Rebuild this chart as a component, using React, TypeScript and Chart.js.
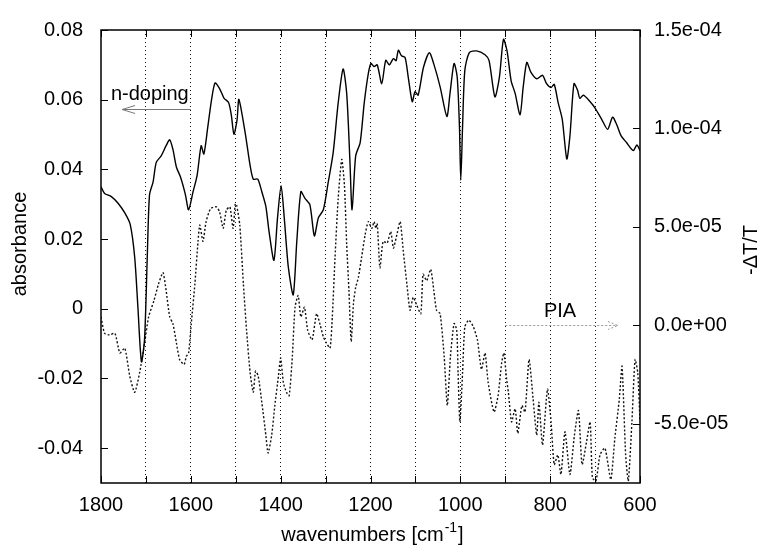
import React, { useEffect, useRef } from "react";
import { Chart, registerables } from "chart.js";

Chart.register(...registerables);

// ---- absorbance (left axis), solid line ----
const absWavenumbers = [1800,1792,1777,1762,1747,1735,1725,1718,1710,1703,1697,1692,1684,1677,1666,1655,1647,1640,1632,1623,1612,1605,1595,1586,1577,1571,1562,1554,1546,1536,1526,1516,1510,1504,1497,1493,1479,1468,1461,1451,1442,1433,1426,1415,1407,1399,1392,1383,1372,1364,1355,1346,1335,1325,1316,1305,1294,1283,1272,1261,1253,1246,1241,1233,1223,1214,1205,1199,1192,1185,1175,1166,1158,1149,1143,1138,1131,1123,1116,1107,1101,1094,1082,1069,1059,1045,1030,1023,1014,1007,1002,999,995,990,980,964,945,936,923,913,904,896,887,878,867,860,852,843,830,817,808,798,791,782,773,763,756,747,739,734,726,711,700,685,672,661,652,642,630,615,607,600];
const absorbance = [0.035,0.0331,0.0322,0.0303,0.0275,0.0242,0.0148,0.0008,-0.0152,-0.0086,0.0149,0.0327,0.0364,0.042,0.0439,0.0468,0.0485,0.0458,0.0406,0.0378,0.0327,0.0284,0.0336,0.0383,0.0468,0.0444,0.0524,0.0599,0.0648,0.0632,0.0604,0.0592,0.0557,0.0501,0.0543,0.0601,0.0505,0.0411,0.0372,0.0372,0.0336,0.0294,0.0223,0.0139,0.0261,0.0353,0.0261,0.012,0.004,0.0195,0.0336,0.0317,0.0299,0.0209,0.0261,0.0284,0.0364,0.0449,0.059,0.0688,0.0618,0.043,0.0284,0.0439,0.0477,0.059,0.0674,0.0704,0.0695,0.07,0.0646,0.0713,0.07,0.0718,0.0712,0.0742,0.0726,0.0721,0.0665,0.0594,0.0623,0.0613,0.0693,0.0735,0.0702,0.0637,0.0552,0.0618,0.0704,0.0665,0.0524,0.0369,0.0524,0.0684,0.0735,0.074,0.0729,0.0712,0.0608,0.0665,0.0773,0.074,0.0655,0.0618,0.0557,0.0637,0.0707,0.0679,0.066,0.067,0.0646,0.0635,0.0644,0.059,0.0543,0.043,0.0496,0.0646,0.0627,0.0604,0.0613,0.0594,0.0576,0.0543,0.0515,0.055,0.0529,0.0496,0.0477,0.0454,0.047,0.0454];

// ---- -ΔT/T photoinduced absorption (right axis), dotted line ----
const piaWavenumbers = [1800,1792,1781,1769,1758,1747,1736,1725,1714,1703,1694,1682,1672,1662,1655,1647,1640,1632,1625,1615,1610,1605,1599,1591,1584,1580,1573,1566,1556,1543,1536,1528,1521,1513,1506,1501,1498,1491,1483,1476,1468,1461,1456,1450,1442,1433,1428,1420,1413,1405,1400,1394,1387,1381,1374,1368,1361,1355,1347,1340,1330,1320,1312,1305,1298,1290,1285,1279,1272,1264,1258,1253,1248,1243,1238,1233,1227,1220,1212,1205,1197,1192,1188,1185,1179,1172,1163,1155,1149,1143,1134,1127,1119,1112,1105,1097,1088,1083,1075,1066,1059,1053,1045,1036,1029,1022,1014,1008,1005,1001,995,990,981,971,962,953,945,938,925,916,908,903,897,893,886,878,872,863,856,847,838,830,825,817,806,798,791,783,776,767,756,746,737,729,719,711,706,698,689,678,665,656,646,640,632,626,618,611,605,600];
const piaValues = [0.43e-5,-0.4e-5,-0.48e-5,-0.4e-5,-1.4e-5,-1.15e-5,-2.57e-5,-3.4e-5,-2.4e-5,-0.9e-5,0.43e-5,1.27e-5,2.1e-5,2.68e-5,1.77e-5,0.43e-5,0.1e-5,-0.9e-5,-1.73e-5,-1.98e-5,-1.57e-5,-1.4e-5,0.1e-5,2.1e-5,4.27e-5,5.1e-5,4.27e-5,5.27e-5,5.93e-5,6.02e-5,5.77e-5,4.93e-5,5.85e-5,6.02e-5,4.93e-5,6.18e-5,6.1e-5,5.1e-5,2.1e-5,-0.23e-5,-2.4e-5,-3.4e-5,-2.32e-5,-2.57e-5,-3.9e-5,-5.57e-5,-6.48e-5,-5.57e-5,-4.07e-5,-2.57e-5,-1.65e-5,-2.9e-5,-3.4e-5,-3.57e-5,-1.57e-5,0.93e-5,1.52e-5,0.43e-5,0.93e-5,-0.23e-5,-0.73e-5,0.6e-5,0.02e-5,-0.57e-5,-0.9e-5,-1.15e-5,0.43e-5,3.43e-5,6.43e-5,8.43e-5,7.1e-5,4.1e-5,1.77e-5,-0.82e-5,1.1e-5,1.93e-5,2.43e-5,3.43e-5,4.6e-5,5.27e-5,4.93e-5,5.27e-5,4.93e-5,5.18e-5,2.93e-5,4.27e-5,4.18e-5,4.77e-5,3.93e-5,4.43e-5,5.27e-5,3.77e-5,2.1e-5,0.77e-5,1.43e-5,1.02e-5,0.6e-5,2.6e-5,2.27e-5,2.85e-5,1.77e-5,0.77e-5,0.6e-5,-1.57e-5,-4.07e-5,-1.57e-5,0.1e-5,-0.23e-5,-2.4e-5,-4.9e-5,-2.4e-5,-0.07e-5,0.27e-5,-0.07e-5,-0.73e-5,-2.23e-5,-1.4e-5,-2.9e-5,-4.4e-5,-3.57e-5,-1.9e-5,-1.4e-5,-2.73e-5,-3.4e-5,-4.9e-5,-4.23e-5,-5.48e-5,-4.07e-5,-4.4e-5,-1.73e-5,-3.73e-5,-5.57e-5,-3.9e-5,-6.07e-5,-3.23e-5,-4.9e-5,-7.07e-5,-6.57e-5,-7.57e-5,-5.4e-5,-7.57e-5,-5.57e-5,-4.32e-5,-7.07e-5,-5.9e-5,-4.9e-5,-7.73e-5,-7.9e-5,-6.57e-5,-6.23e-5,-7.82e-5,-5.73e-5,-3.73e-5,-2.07e-5,-6.57e-5,-7.9e-5,-4.9e-5,-1.73e-5,-2.4e-5,-4.9e-5];

// ---- axes ----
const xTickValues = [600,700,800,900,1000,1100,1200,1300,1400,1500,1600,1700,1800];
const leftTickValues = [-0.04,-0.02,0,0.02,0.04,0.06,0.08];
const rightTickValues = [-5e-5,0,5e-5,1e-4,1.5e-4];

const FONT = '"Liberation Sans", Arial, Helvetica, sans-serif';

function fmtExp(v: number): string {
  const s = v.toExponential(1);
  return s.replace(/e([+-])(\d)$/, "e$10$2");
}

const overlayPlugin = {
  id: "overlay",
  afterDraw(chart: any) {
    const { ctx, chartArea } = chart;
    const { left, right, top, bottom } = chartArea;
    const xs = chart.scales.x;
    const yl = chart.scales.y;
    const yr = chart.scales.y2;
    ctx.save();
    // frame
    ctx.strokeStyle = "#000";
    ctx.lineWidth = 1.5;
    ctx.setLineDash([]);
    ctx.strokeRect(left, top, right - left, bottom - top);
    // inward ticks
    ctx.lineWidth = 1;
    ctx.beginPath();
    const tl = 7;
    leftTickValues.forEach((v) => {
      const y = Math.round(yl.getPixelForValue(v)) + 0.5;
      ctx.moveTo(left, y);
      ctx.lineTo(left + tl, y);
    });
    rightTickValues.forEach((v) => {
      const y = Math.round(yr.getPixelForValue(v)) + 0.5;
      ctx.moveTo(right, y);
      ctx.lineTo(right - tl, y);
    });
    xTickValues.forEach((v) => {
      const x = Math.round(xs.getPixelForValue(v)) + 0.5;
      ctx.moveTo(x, bottom);
      ctx.lineTo(x, bottom - tl);
      ctx.moveTo(x, top);
      ctx.lineTo(x, top + tl);
    });
    ctx.stroke();

    // axis titles
    ctx.fillStyle = "#000";
    ctx.font = `20px ${FONT}`;
    ctx.textAlign = "center";
    ctx.textBaseline = "middle";
    ctx.save();
    ctx.translate(20, 244);
    ctx.rotate(-Math.PI / 2);
    ctx.fillText("absorbance", 0, 0);
    ctx.restore();
    ctx.save();
    ctx.translate(751, 250);
    ctx.rotate(-Math.PI / 2);
    ctx.fillText("-\u0394T/T", 0, 0);
    ctx.restore();

    // bottom title with superscript
    ctx.textBaseline = "alphabetic";
    ctx.textAlign = "left";
    const main = "wavenumbers [cm";
    const sup = "-1";
    const end = "]";
    ctx.font = `20px ${FONT}`;
    const wMain = ctx.measureText(main).width;
    const wEnd = ctx.measureText(end).width;
    ctx.font = `14px ${FONT}`;
    const wSup = ctx.measureText(sup).width;
    const total = wMain + wSup + 1 + wEnd;
    let x0 = 372 - total / 2;
    const base = 541;
    ctx.font = `20px ${FONT}`;
    ctx.fillText(main, x0, base);
    ctx.font = `14px ${FONT}`;
    ctx.fillText(sup, x0 + wMain + 1, base - 9);
    ctx.font = `20px ${FONT}`;
    ctx.fillText(end, x0 + wMain + wSup + 2, base);

    // n-doping annotation
    ctx.fillText("n-doping", xs.getPixelForValue(1778), yl.getPixelForValue(0.06));
    ctx.strokeStyle = "#777";
    ctx.lineWidth = 1;
    const ay = Math.round(yl.getPixelForValue(0.0572)) + 0.5;
    const ax1 = xs.getPixelForValue(1600);
    const ax2 = xs.getPixelForValue(1753);
    ctx.beginPath();
    ctx.moveTo(ax1, ay);
    ctx.lineTo(ax2, ay);
    ctx.moveTo(ax2 + 13, ay - 4);
    ctx.lineTo(ax2, ay);
    ctx.lineTo(ax2 + 13, ay + 4);
    ctx.stroke();

    // PIA annotation
    ctx.fillStyle = "#000";
    ctx.textAlign = "center";
    ctx.fillText("PIA", xs.getPixelForValue(778), yr.getPixelForValue(0.45e-5));
    const py = Math.round(yr.getPixelForValue(0)) + 0.5;
    const px1 = xs.getPixelForValue(900);
    const px2 = xs.getPixelForValue(649);
    ctx.strokeStyle = "#999";
    ctx.setLineDash([2, 2]);
    ctx.beginPath();
    ctx.moveTo(px1, py);
    ctx.lineTo(px2, py);
    ctx.moveTo(px2 - 10, py - 4);
    ctx.lineTo(px2, py);
    ctx.lineTo(px2 - 10, py + 4);
    ctx.stroke();
    ctx.restore();
  },
};

export default function App() {
  const canvasRef = useRef<HTMLCanvasElement | null>(null);

  useEffect(() => {
    document.body.style.margin = "0";
    const canvas = canvasRef.current;
    if (!canvas) return;
    const absData = absWavenumbers.map((x, i) => ({ x, y: absorbance[i] }));
    const piaData = piaWavenumbers.map((x, i) => ({ x, y: piaValues[i] }));
    const tickFont = { family: FONT, size: 20 };

    const chart = new Chart(canvas, {
      type: "line",
      data: {
        datasets: [
          {
            label: "absorbance",
            data: absData,
            yAxisID: "y",
            borderColor: "#000",
            borderWidth: 1.4,
            pointRadius: 0,
            tension: 0.25,
            fill: false,
          },
          {
            label: "-\u0394T/T",
            data: piaData,
            yAxisID: "y2",
            borderColor: "#111",
            borderWidth: 1.4,
            borderDash: [2, 2],
            pointRadius: 0,
            tension: 0.2,
            fill: false,
          },
        ],
      },
      options: {
        animation: false,
        responsive: false,
        devicePixelRatio: 1,
        parsing: true,
        layout: { padding: { top: 22, left: 0, right: 0, bottom: 0 } },
        plugins: {
          legend: { display: false },
          tooltip: { enabled: false },
          title: { display: false },
        },
        scales: {
          x: {
            type: "linear",
            reverse: true,
            min: 600,
            max: 1800,
            afterBuildTicks: (s: any) => {
              s.ticks = xTickValues.map((v) => ({ value: v }));
            },
            afterFit: (s: any) => {
              s.height = 62;
            },
            ticks: {
              autoSkip: false,
              maxRotation: 0,
              color: "#000",
              font: tickFont,
              padding: 10,
              callback: (v: any) => (Number(v) % 200 === 0 ? String(v) : ""),
            },
            grid: {
              drawTicks: false,
              lineWidth: 1,
              color: (c: any) =>
                c.tick && (c.tick.value === 600 || c.tick.value === 1800) ? "rgba(0,0,0,0)" : "#111",
            },
            border: { display: false, dash: [1, 3] },
          },
          y: {
            type: "linear",
            position: "left",
            min: -0.05,
            max: 0.08,
            afterBuildTicks: (s: any) => {
              s.ticks = leftTickValues.map((v) => ({ value: v }));
            },
            afterFit: (s: any) => {
              s.width = 101;
            },
            ticks: {
              color: "#000",
              font: tickFont,
              padding: 18,
              callback: (v: any) => (Number(v) === 0 ? "0" : Number(v).toFixed(2)),
            },
            grid: { display: false, drawTicks: false },
            border: { display: false },
          },
          y2: {
            type: "linear",
            position: "right",
            min: -8e-5,
            max: 1.5e-4,
            afterBuildTicks: (s: any) => {
              s.ticks = rightTickValues.map((v) => ({ value: v }));
            },
            afterFit: (s: any) => {
              s.width = 123;
            },
            ticks: {
              color: "#000",
              font: tickFont,
              padding: 14,
              callback: (v: any) => fmtExp(Number(v)),
            },
            grid: { display: false, drawTicks: false },
            border: { display: false },
          },
        },
      },
      plugins: [overlayPlugin],
    } as any);

    return () => {
      chart.destroy();
    };
  }, []);

  return (
    <div style={{ position: "absolute", left: 0, top: 0, width: 763, height: 545, background: "#fff" }}>
      <canvas ref={canvasRef} width={763} height={545} style={{ width: 763, height: 545, display: "block" }} />
    </div>
  );
}
